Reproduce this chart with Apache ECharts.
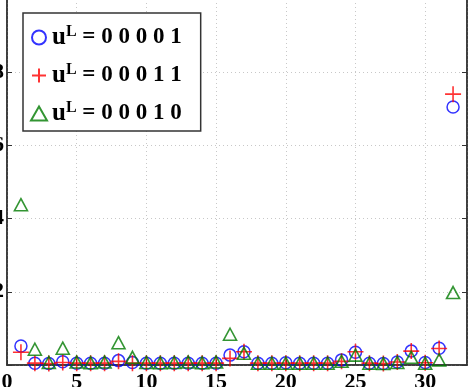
<!DOCTYPE html>
<html>
<head>
<meta charset="utf-8">
<script src="https://cdn.jsdelivr.net/npm/echarts@6/dist/echarts.min.js"></script>
<style>html,body{margin:0;padding:0;background:#fff}#c{width:474px;height:387px}</style>
</head>
<body>
<div id="c"></div>
<script>
var xs = [1,2,3,4,5,6,7,8,9,10,11,12,13,14,15,16,17,18,19,20,21,22,23,24,25,26,27,28,29,30,31,32];
var blue = [0.52,0.05,0.04,0.09,0.05,0.05,0.05,0.12,0.07,0.05,0.05,0.05,0.05,0.05,0.05,0.27,0.36,0.05,0.05,0.06,0.05,0.05,0.05,0.14,0.35,0.05,0.04,0.08,0.38,0.07,0.46,7.05];
var red = [0.35,0.05,0.04,0.07,0.05,0.05,0.05,0.10,0.05,0.05,0.05,0.05,0.05,0.05,0.05,0.18,0.36,0.05,0.05,0.05,0.05,0.05,0.05,0.10,0.36,0.05,0.04,0.08,0.38,0.06,0.45,7.40];
var green = [4.38,0.43,0.07,0.46,0.08,0.06,0.08,0.61,0.21,0.07,0.06,0.07,0.08,0.06,0.08,0.84,0.32,0.05,0.05,0.05,0.05,0.05,0.05,0.10,0.27,0.05,0.04,0.07,0.21,0.05,0.14,1.98];
var names = ['0 0 0 0 1', '0 0 0 1 1', '0 0 0 1 0'];
var xTicks = [0,5,10,15,20,25,30];
var yTicks = [2,4,6,8];

function pts(v){ return xs.map(function(x,i){ return [x, v[i]]; }); }
var font = 'Liberation Serif, Times New Roman, serif';
var chart = echarts.init(document.getElementById('c'));
var axisCommon = {
  axisLine:{show:true,lineStyle:{color:'#333',width:1.5}},
  axisTick:{show:true,inside:true,length:5,lineStyle:{color:'#333'}},
  splitLine:{show:true,lineStyle:{color:'#c8c8c8',type:[1,3],width:1}}
};
chart.setOption({
  animation:false,
  backgroundColor:'#fff',
  grid:{left:7,right:7,top:-1,bottom:22,show:true,borderColor:'#333',borderWidth:1.5,
    containLabel:false,outerBoundsMode:'none'},
  xAxis:Object.assign({type:'value',min:0,max:33,interval:5,
    axisLabel:{show:true,margin:6,color:'#000',fontFamily:font,fontWeight:'bold',fontSize:22,
      formatter:function(v){return xTicks.indexOf(v)>=0?String(v):'';},showMaxLabel:false}},axisCommon),
  yAxis:[Object.assign({type:'value',min:0,max:10,interval:2,
    axisLabel:{show:true,margin:3,color:'#000',fontFamily:font,fontWeight:'bold',fontSize:22,
      formatter:function(v){return yTicks.indexOf(v)>=0?String(v):'';}}},axisCommon),
    {type:'value',min:0,max:10,interval:2,position:'right',
     axisLine:{show:true,lineStyle:{color:'#333',width:1.5}},
     axisTick:{show:true,inside:true,length:5,lineStyle:{color:'#333'}},
     axisLabel:{show:false},splitLine:{show:false}}],
  legend:{
    left:23,top:13,orient:'vertical',
    padding:[11,19,5,7],itemGap:12,itemWidth:16,itemHeight:14,
    backgroundColor:'#fff',borderColor:'#333',borderWidth:1.5,borderRadius:0,
    data:names,
    formatter:function(n){return '{u|u}{s|L}{t| = '+n+'}';},
    textStyle:{fontFamily:font,fontWeight:'bold',color:'#000',fontSize:23,
      rich:{
        u:{fontFamily:font,fontWeight:'bold',fontSize:25,color:'#000',lineHeight:27},
        s:{fontFamily:font,fontWeight:'bold',fontSize:16,color:'#000',verticalAlign:'top',lineHeight:27},
        t:{fontFamily:font,fontWeight:'bold',fontSize:23,color:'#000',lineHeight:27}
      }}
  },
  series:[
    {name:names[0],type:'scatter',data:pts(blue),symbol:'circle',symbolSize:12,
     itemStyle:{color:'rgba(0,0,0,0)',borderColor:'#0000ff',borderWidth:1.5}},
    {name:names[1],type:'scatter',data:pts(red),symbol:'path://M0,8L16,8M8,0L8,16',symbolSize:16,
     itemStyle:{color:'#ff0000',borderColor:'#ff0000',borderWidth:1.6}},
    {name:names[2],type:'scatter',data:pts(green),symbol:'triangle',symbolSize:[13,12],
     itemStyle:{color:'rgba(0,0,0,0)',borderColor:'#007a00',borderWidth:1.6}}
  ]
});
</script>
</body>
</html>
